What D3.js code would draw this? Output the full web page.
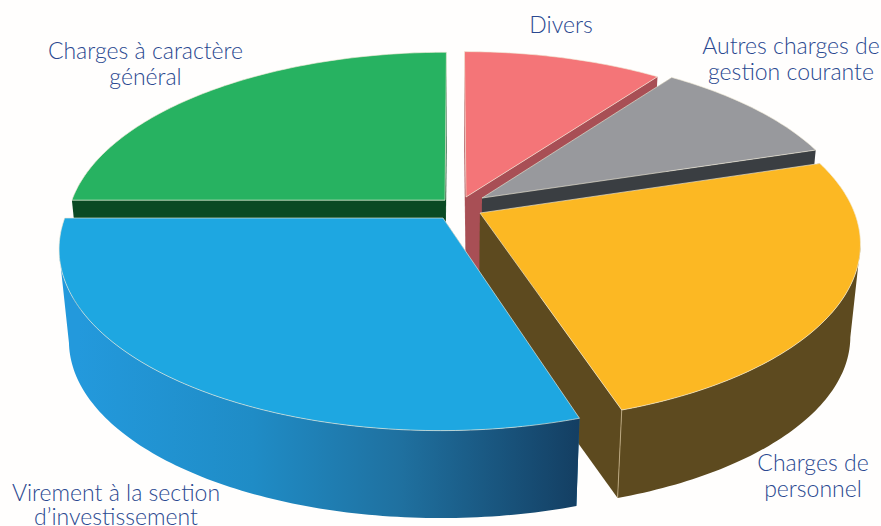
<!DOCTYPE html>
<html>
<head>
<meta charset="utf-8">
<title>Charges</title>
<script src="https://cdn.jsdelivr.net/npm/d3@7"></script>
<style>
  html, body { margin: 0; padding: 0; background: #fffefd; }
  svg { display: block; }
  text { font-family: Lato, "Open Sans", sans-serif; font-size: 23px; font-weight: 300; fill: #2a4890; text-anchor: middle; }
</style>
</head>
<body>
<div id="chart"></div>
<script>
// slices, in pie order starting from 12 o'clock, clockwise
var categories = ["Divers", "Autres charges de gestion courante", "Charges de personnel", "Virement à la section d’investissement", "Charges à caractère général"];
var values = [10.1, 10.1, 24.8, 30, 25];
var labelLines = [["Divers"], ["Autres charges de", "gestion courante"], ["Charges de", "personnel"], ["Virement à la section", "d’investissement"], ["Charges à caractère", "général"]];

// look of the slices
var topColors = ["#f47578", "#98999d", "#fcb823", "#1ea7e1", "#27b261"];
var wallColors = ["#a84f55", "#3a3e42", "#5d4a1f", "#1a6a9a", "#0a4a24"];
var explodeU = [0.0295, 0.0724, 0.066, -0.0316, -0.0267];
var explodeV = [0.0689, 0.0633, -0.0228, -0.051, 0.051];
var radius = [0.985, 0.985, 0.99, 0.995, 0.998];
var labelX = [561, 791, 813, 116, 145.5];
var labelY = [33, 54, 471, 501, 59];
var labelGap = [0, 26, 26, 24, 26];
var drawOrder = [4, 0, 1, 2, 3]; // back to front

var width = 881, height = 526;
var perspective = 0.165;  // how much the far side of the disc shrinks
var wallDrop = 93, wallShrink = 0.975;

// disc coordinates go from -1 to 1, after the perspective divide
var x = d3.scaleLinear().domain([-1, 1]).range([455 - 377, 455 + 377]);
var y = d3.scaleLinear().domain([-1, 1]).range([209 + 175.3, 209 - 175.3]);

var svg = d3.select("#chart").append("svg")
  .attr("width", width)
  .attr("height", height);

var defs = svg.append("defs");
var grad = defs.append("linearGradient")
  .attr("id", "blueWall")
  .attr("gradientUnits", "userSpaceOnUse")
  .attr("x1", x(-1)).attr("x2", 577).attr("y1", 0).attr("y2", 0);
grad.append("stop").attr("offset", "0%").attr("stop-color", "#2399dc");
grad.append("stop").attr("offset", "35%").attr("stop-color", "#1f8cc6");
grad.append("stop").attr("offset", "65%").attr("stop-color", "#1f709f");
grad.append("stop").attr("offset", "100%").attr("stop-color", "#143f63");

function project(u, v){
  var w = 1 + perspective * v;
  return [x(u / w), y(v / w)];
}
function lower(p){
  // same point on the underside of the disc
  return [x(0) + (p[0] - x(0)) * wallShrink, y(0) + (p[1] - y(0)) * wallShrink + wallDrop];
}

var pie = d3.pie().sort(null).value(function(d){ return d; });
var arcs = pie(values);
var line = d3.line();

drawOrder.forEach(function(i){
  var a = arcs[i];
  var cu = explodeU[i], cv = explodeV[i];
  var center = project(cu, cv);
  // points along the rim
  var n = Math.ceil((a.endAngle - a.startAngle) * 60);
  var angles = d3.range(n + 1).map(function(k){
    return a.startAngle + (a.endAngle - a.startAngle) * k / n;
  });
  var rim = angles.map(function(t){
    return project(cu + radius[i] * Math.sin(t), cv + radius[i] * Math.cos(t));
  });
  var rimLow = rim.map(lower);
  var centerLow = lower(center);
  var wall = i == 3 ? "url(#blueWall)" : wallColors[i];
  var g = svg.append("g");

  // the two flat cut faces
  g.append("path")
    .attr("d", line([center, rim[0], rimLow[0], centerLow]) + "Z")
    .attr("fill", wallColors[i]);
  g.append("path")
    .attr("d", line([center, rim[n], rimLow[n], centerLow]) + "Z")
    .attr("fill", wallColors[i]);
  // outer curved wall, only the part that faces the viewer
  var front = d3.range(n + 1).filter(function(k){ return Math.cos(angles[k]) < -perspective; });
  if (front.length > 1){
    var upper = front.map(function(k){ return rim[k]; });
    var under = front.map(function(k){ return rimLow[k]; }).reverse();
    g.append("path")
      .attr("d", line(upper.concat(under)) + "Z")
      .attr("fill", wall);
  }
  // corner line on the orange slice
  if (i == 2){
    g.append("path")
      .attr("d", line([rim[n], rimLow[n]]))
      .attr("stroke", "#c9b48a")
      .attr("stroke-width", 0.8);
  }
  // top
  g.append("path")
    .attr("d", line([center].concat(rim)) + "Z")
    .attr("fill", topColors[i])
    .attr("stroke", "#f1ead8")
    .attr("stroke-opacity", 0.8)
    .attr("stroke-width", 0.8)
    .attr("stroke-linejoin", "round");
});

// labels
labelLines.forEach(function(lines, i){
  lines.forEach(function(t, j){
    svg.append("text")
      .attr("x", labelX[i])
      .attr("y", labelY[i] + j * labelGap[i])
      .text(t);
  });
});
</script>
</body>
</html>
